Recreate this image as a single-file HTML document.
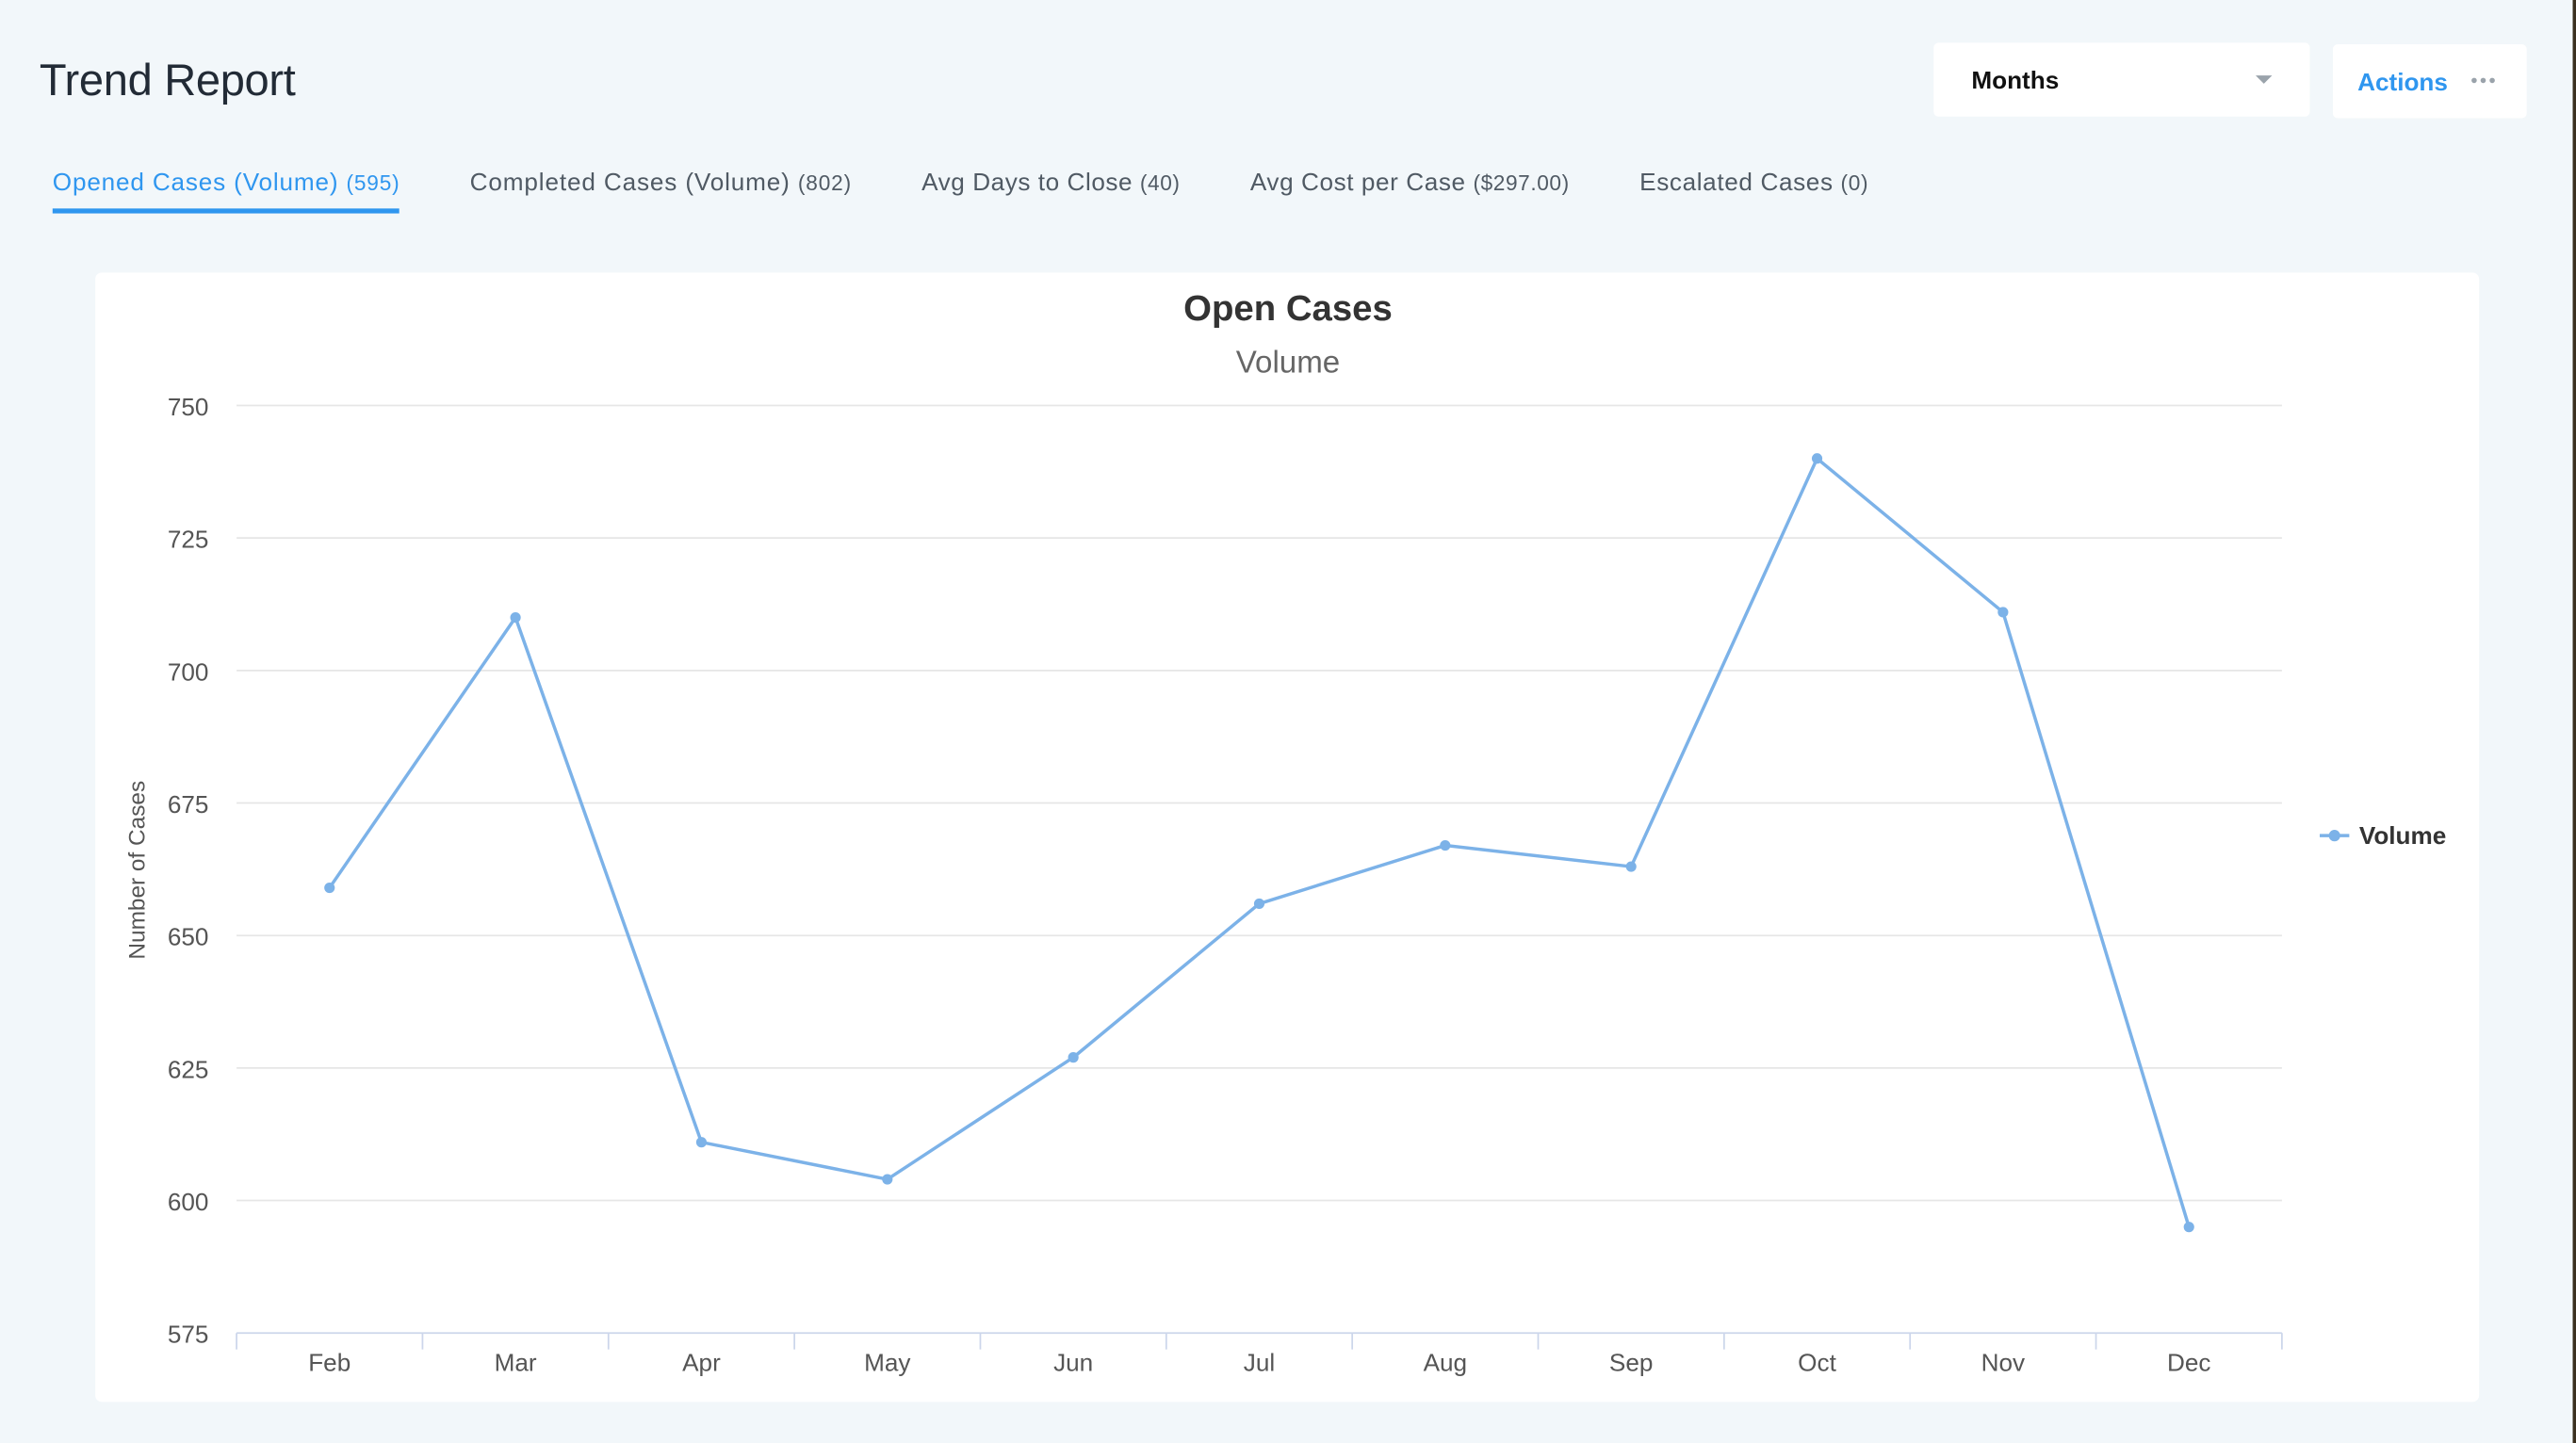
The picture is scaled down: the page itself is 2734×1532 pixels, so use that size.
<!DOCTYPE html>
<html><head><meta charset="utf-8"><style>
html,body{margin:0;padding:0;background:#f2f7fa;}
svg{display:block;font-family:"Liberation Sans",sans-serif;}
</style></head><body>
<svg id="root" width="2734" height="1532" viewBox="0 0 1568 879" preserveAspectRatio="none">
<rect x="0" y="0" width="1568" height="879" fill="#f2f7fa"/>
<rect x="1566" y="0" width="2" height="879" fill="#3a3020"/>
<text x="24" y="58" font-size="27" font-weight="300" textLength="156" fill="#222b36">Trend Report</text>
<g>
<rect x="1177" y="26" width="229" height="45" rx="3" fill="#fff"/>
<text x="1200" y="54" font-size="15" font-weight="bold" fill="#111">Months</text>
<path d="M1373 46 L1383 46 L1378 51 Z" fill="#9aa3ab"/>
</g>
<g>
<rect x="1420" y="27" width="118" height="45" rx="3" fill="#fff"/>
<text x="1435" y="55" font-size="15" font-weight="bold" fill="#2f96ef">Actions</text>
<circle cx="1506" cy="49" r="1.6" fill="#9aa3ab"/><circle cx="1511.5" cy="49" r="1.6" fill="#9aa3ab"/><circle cx="1517" cy="49" r="1.6" fill="#9aa3ab"/>
</g>
<g font-size="15" fill="#505a64">
<text x="32" y="116" fill="#2f96ef" textLength="211">Opened Cases (Volume) <tspan font-size="13">(595)</tspan></text>
<rect x="32" y="127" width="211" height="3" fill="#2f96ef"/>
<text x="286" y="116" textLength="232">Completed Cases (Volume) <tspan font-size="13">(802)</tspan></text>
<text x="561" y="116" textLength="157">Avg Days to Close <tspan font-size="13">(40)</tspan></text>
<text x="761" y="116" textLength="194">Avg Cost per Case <tspan font-size="13">($297.00)</tspan></text>
<text x="998" y="116" textLength="139">Escalated Cases <tspan font-size="13">(0)</tspan></text>
</g>
<rect x="58" y="166" width="1451" height="688" rx="4" fill="#fff"/>
<text x="784" y="195" text-anchor="middle" font-size="22" font-weight="bold" fill="#333">Open Cases</text>
<text x="784" y="227" text-anchor="middle" font-size="19" fill="#666">Volume</text>
<text transform="translate(88,530) rotate(-90)" text-anchor="middle" font-size="14" fill="#555">Number of Cases</text>
<g id="grid"></g><g id="xaxis"></g><g id="series"></g>
<g>
<line x1="1412" y1="509" x2="1430" y2="509" stroke="#7cb2e8" stroke-width="2"/>
<circle cx="1421" cy="509" r="3.5" fill="#7cb2e8"/>
<text x="1436" y="514" font-size="15" font-weight="bold" fill="#333">Volume</text>
</g>
</svg>
<script>
const categories=["Feb","Mar","Apr","May","Jun","Jul","Aug","Sep","Oct","Nov","Dec"];
const volume=[659,710,611,604,627,656,667,663,740,711,595];
const yTicks=[575,600,625,650,675,700,725,750];
const NS="http://www.w3.org/2000/svg";
const x0=144,x1=1389,yMin=575,yMax=750,py0=812,py1=247;
const step=(x1-x0)/categories.length;
function xs(i){return x0+step*(i+0.5);}
function ys(v){return py0-(v-yMin)/(yMax-yMin)*(py0-py1);}
function mk(tag,attrs,parent){const e=document.createElementNS(NS,tag);for(const k in attrs)e.setAttribute(k,attrs[k]);parent.appendChild(e);return e;}
const grid=document.getElementById('grid');
yTicks.forEach(t=>{
 const y=ys(t);
 if(t!==yMin){const l=mk('line',{x1:x0,x2:x1,y1:y,y2:y,stroke:'#e6e6e6','stroke-width':1},grid);
 
 }
 const tx=mk('text',{x:127,y:y+6,'text-anchor':'end','font-size':15,fill:'#555'},grid);
 tx.textContent=t;
 
 
});
const xa=document.getElementById('xaxis');
const ax=mk('line',{x1:x0,x2:x1,y1:py0,y2:py0,stroke:'#ccd6eb','stroke-width':1},xa);


for(let i=0;i<=categories.length;i++){const x=x0+step*i;mk('line',{x1:x,x2:x,y1:py0,y2:py0+10,stroke:'#ccd6eb'},xa);}
categories.forEach((c,i)=>{
 const t=mk('text',{x:xs(i),y:835,'text-anchor':'middle','font-size':15,fill:'#555'},xa);
 t.textContent=c;
 
 
});
const s=document.getElementById('series');
const pl=mk('polyline',{points:volume.map((v,i)=>xs(i)+','+ys(v)).join(' '),fill:'none',stroke:'#7cb2e8','stroke-width':2},s);


volume.forEach((v,i)=>{
 const c=mk('circle',{cx:xs(i),cy:ys(v),r:3.2,fill:'#7cb2e8'},s);
 
 
});
</script>
</body></html>
